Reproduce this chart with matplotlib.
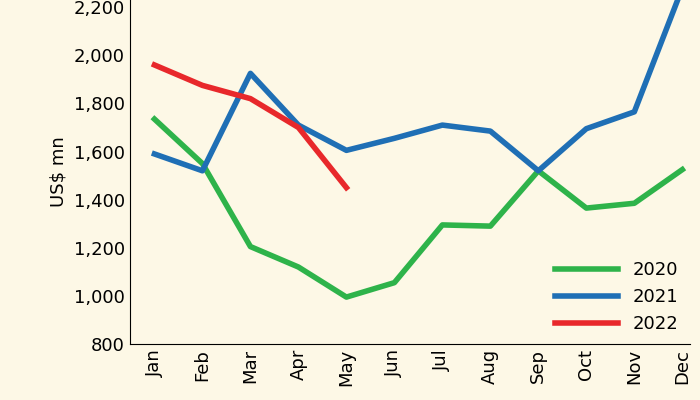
import matplotlib
matplotlib.use("Agg")
import matplotlib.pyplot as plt

months = ["Jan", "Feb", "Mar", "Apr", "May", "Jun", "Jul", "Aug", "Sep", "Oct", "Nov", "Dec"]
y2020 = [1735, 1550, 1205, 1120, 995, 1055, 1295, 1290, 1520, 1365, 1385, 1525]
y2021 = [1590, 1520, 1925, 1710, 1605, 1655, 1710, 1685, 1520, 1695, 1765, 2280]
y2022 = [1960, 1875, 1820, 1700, 1450]

bg = "#fdf8e6"
fig = plt.figure(figsize=(7, 4), dpi=100, facecolor=bg)
ax = fig.add_axes([0.185, 0.14, 0.80, 0.86], facecolor=bg)
x = range(len(months))
ax.plot(x, y2020, color="#2eb34a", lw=4, label="2020")
ax.plot(x, y2021, color="#1f6fb5", lw=4, label="2021")
ax.plot(range(len(y2022)), y2022, color="#e8282b", lw=4, label="2022")

ax.set_ylim(800, 2230)
ax.set_xlim(-0.52, 11.15)
ax.set_yticks(range(800, 2201, 200))
ax.set_yticklabels([f"{v:,}" for v in range(800, 2201, 200)], fontsize=13)
ax.set_xticks(list(x))
ax.set_xticklabels(months, rotation=90, fontsize=13)
ax.set_ylabel("US$ mn", fontsize=13)
for s in ["top", "right"]:
    ax.spines[s].set_visible(False)
ax.tick_params(length=0)
ax.legend(loc="lower right", frameon=False, fontsize=13, handlelength=3.5, borderaxespad=0.2)
fig.savefig("out.png", dpi=100, facecolor=bg)
